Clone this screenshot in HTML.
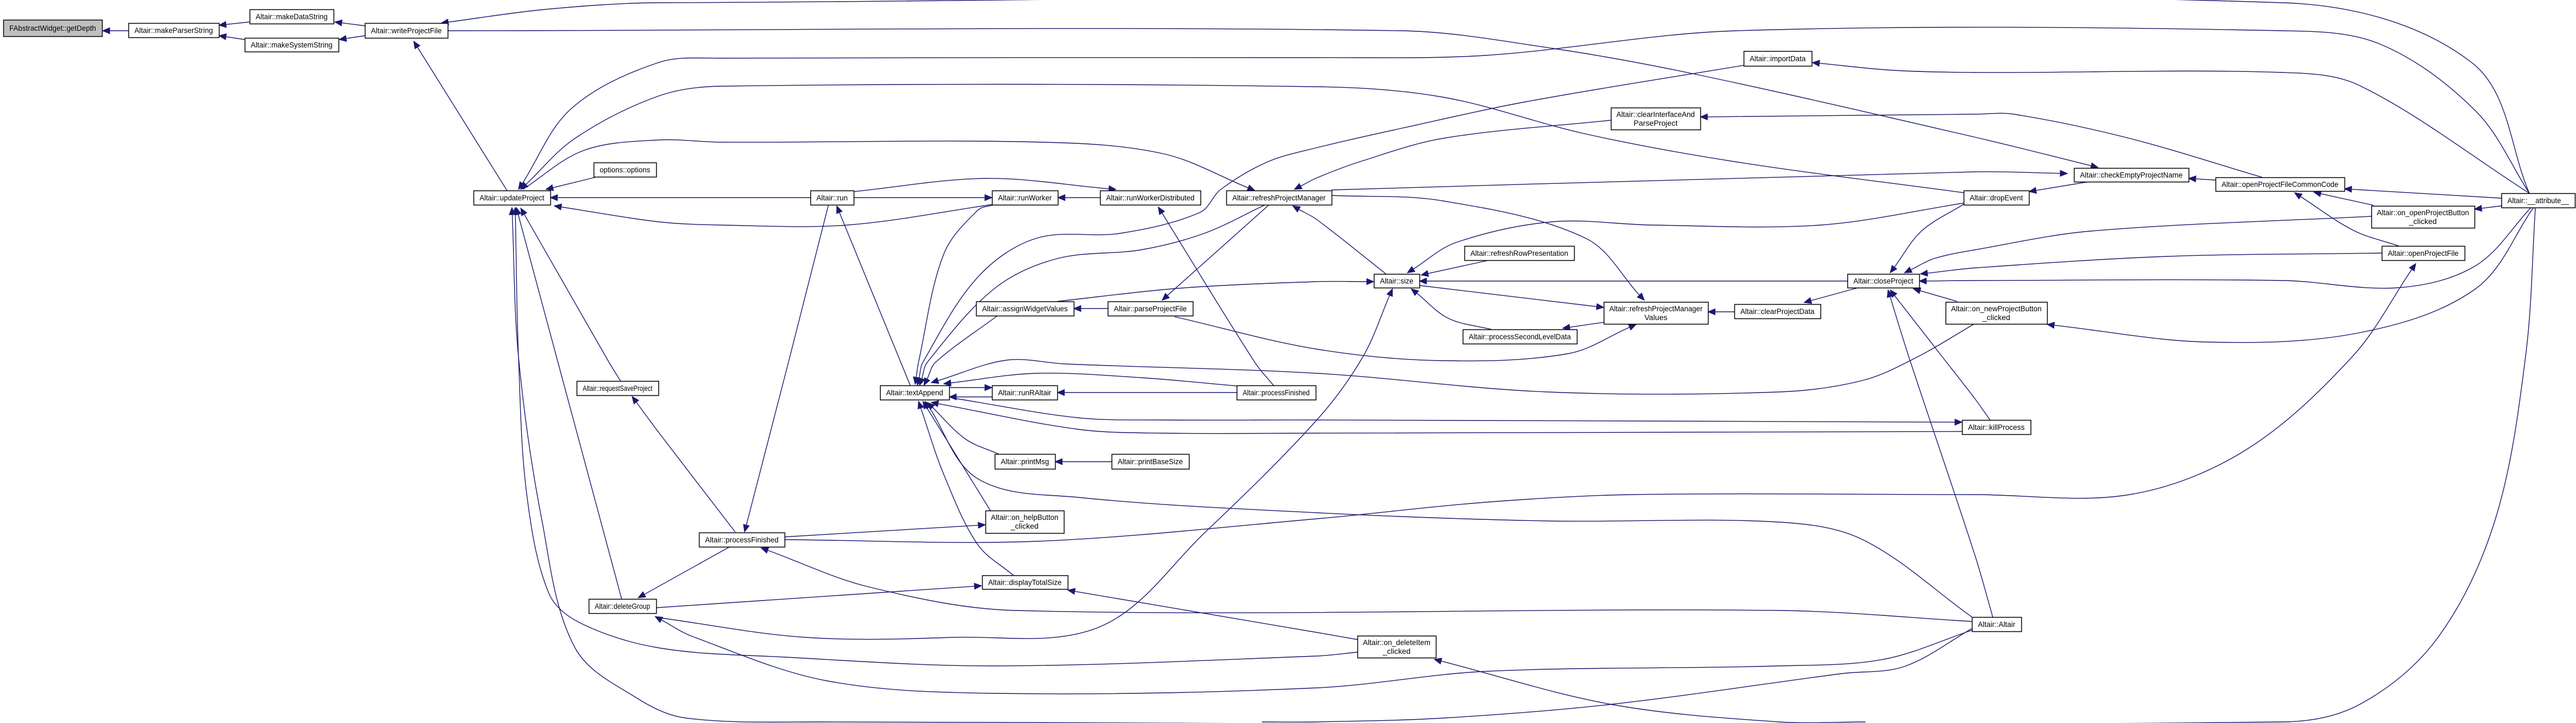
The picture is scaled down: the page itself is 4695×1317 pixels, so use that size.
<!DOCTYPE html>
<html><head><meta charset="utf-8"><style>
html,body{margin:0;padding:0;background:#fff;}
svg{display:block;}
text{font-family:"Liberation Sans",sans-serif;font-size:14px;fill:#000;}
</style></head><body>
<svg id="s" width="4695" height="1317" viewBox="0 0 4695 1317" xmlns="http://www.w3.org/2000/svg">
<g id="edges" fill="none" stroke="#191970" stroke-width="1.4"></g>
<g id="arrows" fill="#191970" stroke="#191970" stroke-width="1"></g>
<g id="nodes"></g>
</svg>
<script>
var N=[
["FAbstractWidget::getDepth",6,186,36,66,1],
["Altair::makeParserString",234,399,42,68],
["Altair::makeDataString",455,608,17,43],
["Altair::makeSystemString",446,617,69,94],
["Altair::writeProjectFile",665,816,42,69],
["Altair::updateProject",863,1003,347,373],
["options::options",1082,1196,296,322],
["Altair::requestSaveProject",1051,1200,694,720],
["Altair::deleteGroup",1073,1196,1091,1117],
["Altair::run",1477,1556,347,373],
["Altair::runWorker",1808,1928,347,373],
["Altair::runWorkerDistributed",2005,2188,347,373],
["Altair::refreshProjectManager",2235,2427,347,373],
["Altair::assignWidgetValues",1779,1957,549,575],
["Altair::parseProjectFile",2019,2174,549,575],
["Altair::textAppend",1604,1730,702,728],
["Altair::runRAltair",1808,1927,702,728],
["Altair::processFinished",2254,2398,702,728],
["Altair::printMsg",1813,1923,827,854],
["Altair::printBaseSize",2026,2167,827,854],
["Altair::on_helpButton|_clicked",1796,1939,930,971],
["Altair::processFinished",1274,1430,970,996],
["Altair::displayTotalSize",1790,1946,1048,1073],
["Altair::importData",3178,3302,93,120],
["Altair::clearInterfaceAnd|ParseProject",2936,3099,196,236],
["Altair::refreshRowPresentation",2669,2869,448,474],
["Altair::size",2504,2587,499,524],
["Altair::closeProject",3367,3498,499,524],
["Altair::refreshProjectManager|Values",2923,3113,550,590],
["Altair::clearProjectData",3161,3318,554,580],
["Altair::processSecondLevelData",2666,2874,600,626],
["Altair::dropEvent",3579,3698,347,373],
["Altair::checkEmptyProjectName",3780,3989,306,331],
["Altair::openProjectFileCommonCode",4038,4273,323,348],
["Altair::__attribute__",4559,4693,352,378],
["Altair::on_openProjectButton|_clicked",4322,4510,375,415],
["Altair::openProjectFile",4341,4492,448,474],
["Altair::on_newProjectButton|_clicked",3546,3731,550,590],
["Altair::killProcess",3576,3701,765,791],
["Altair::Altair",3594,3684,1124,1150],
["Altair::on_deleteItem|_clicked",2474,2617,1158,1198]
];
var E=[
[[187,56],[234,56]],
[[399,46],[455,40]],
[[399,65],[446,72]],
[[610,40],[665,47]],
[[618,72],[665,65]],
[[754,75],[924,347]],
[[804,42],[995,17],[1200,5],[4161,5],[4505,114],[4610,352]],
[[3824,305],[3600,250],[3089,135],[2829,88],[2553,56],[816,56]],
[[945,345],[1041,198],[1200,114],[1315,106],[2400,105],[2706,101],[3165,56],[4161,56],[4337,80],[4512,202],[4610,352]],
[[949,345],[1048,252],[1200,175],[1315,157],[2400,158],[2630,177],[2890,244],[3165,295],[3579,351]],
[[2287,347],[2120,280],[1900,259],[1315,259],[1200,255],[1064,274],[953,345]],
[[995,345],[1085,323]],
[[1003,360],[1477,360]],
[[1808,360],[1556,360]],
[[1928,360],[2005,360]],
[[1010,375],[1200,404],[1315,410],[1544,410],[1812,372]],
[[2034,345],[1797,325],[1556,349]],
[[2111,377],[2287,660],[2321,702]],
[[1357,969],[1437,660],[1510,373]],
[[1525,375],[1659,702]],
[[1668,700],[1674,660],[1720,463],[1782,383],[1812,373]],
[[1672,702],[1682,660],[1782,505],[1889,434],[2042,425],[2187,387],[2225,345],[2310,295],[2400,269],[2553,234],[2783,185],[3178,119]],
[[1676,702],[1690,660],[1812,526],[1927,471],[2080,455],[2195,425],[2306,373]],
[[2118,547],[2313,373]],
[[2356,375],[2400,400],[2526,499]],
[[2359,345],[2400,324],[2477,295],[2630,252],[2936,219]],
[[3768,316],[3600,313],[2427,346]],
[[2997,547],[2890,434],[2630,366],[2427,356]],
[[2504,513],[2400,513],[2150,525],[1927,549]],
[[1957,562],[2019,562]],
[[1684,702],[1705,660],[1818,575]],
[[2982,591],[2859,644],[2630,657],[2400,636],[2141,577]],
[[2923,560],[2587,520]],
[[2572,526],[2640,580],[2718,600]],
[[2848,598],[2923,587]],
[[2590,501],[2714,474]],
[[2587,512],[3367,512]],
[[2565,497],[2653,442],[2829,404],[3012,410],[3318,410],[3579,370]],
[[2538,526],[2484,650],[2400,765],[2195,971],[2004,1142],[1736,1161],[1468,1161],[1200,1125]],
[[1808,706],[1730,706]],
[[1730,723],[1808,723]],
[[1927,715],[2254,715]],
[[1697,697],[1835,656],[1942,663],[2400,680],[2821,714],[3242,714],[3395,693],[3495,650],[3600,589]],
[[1720,699],[1889,680],[2080,688],[2254,703]],
[[3576,769],[2400,765],[2118,765],[1965,761],[1736,725]],
[[1697,733],[1965,782],[2118,789],[2400,789],[3576,786]],
[[1923,841],[2026,841]],
[[1690,733],[1760,800],[1820,827]],
[[1686,731],[1782,872],[1965,906],[2400,934],[2821,949],[3242,951],[3395,983],[3594,1124]],
[[1682,731],[1805,930]],
[[1674,731],[1720,864],[1782,992],[1847,1048]],
[[1796,956],[1430,978]],
[[4403,480],[4287,650],[4091,821],[3881,901],[3600,901],[2974,901],[2706,915],[2400,945],[1889,986],[1430,983]],
[[1387,998],[1583,1069],[1850,1112],[3242,1112],[3594,1132]],
[[1163,1089],[1330,996]],
[[1789,1067],[1196,1107]],
[[1946,1075],[2400,1152],[2474,1165]],
[[1194,1123],[1261,1159],[1506,1240],[1812,1263],[2400,1253],[2706,1223],[3242,1213],[3433,1201],[3594,1148]],
[[939,378],[945,650],[960,900],[1000,1080],[1056,1134],[1200,1180],[1430,1197],[1812,1213],[2400,1195],[2474,1188]],
[[933,378],[945,650],[987,944],[1048,1180],[1163,1273],[1250,1308],[1500,1315],[4161,1315],[4301,1283],[4442,1163],[4547,949],[4603,650],[4621,378]],
[[2614,1201],[2936,1283],[3242,1315],[3400,1315]],
[[2300,1315],[2400,1315],[2630,1308],[2936,1283],[3357,1227],[3471,1214],[3594,1145],"noarrow"],
[[941,378],[1133,1091]],
[[949,379],[1110,660],[1131,694]],
[[1152,722],[1200,787],[1340,969]],
[[3303,114],[3450,128],[3600,132],[4161,132],[4301,156],[4610,352]],
[[3099,213],[3600,208],[3670,208],[3881,252],[4123,323]],
[[3989,325],[4038,328]],
[[3698,349],[3807,331]],
[[4273,344],[4559,361]],
[[4217,350],[4326,374]],
[[4182,351],[4290,420],[4372,448]],
[[4510,381],[4559,375]],
[[3471,497],[3525,471],[3600,455],[3810,421],[4322,394]],
[[3500,499],[3600,488],[3951,467],[4341,461]],
[[3498,512],[3600,511],[4161,511],[4372,524],[4512,484],[4613,378]],
[[3731,591],[4021,623],[4301,606],[4512,526],[4617,379]],
[[3487,526],[3567,549]],
[[3288,551],[3387,524]],
[[3113,568],[3161,568]],
[[3445,497],[3502,421],[3579,372]],
[[3445,528],[3540,650],[3600,727],[3627,765]],
[[3441,528],[3479,650],[3600,1013],[3632,1124]]
];
var NS="http://www.w3.org/2000/svg";
function el(t,a,p){var e=document.createElementNS(NS,t);for(var k in a)e.setAttribute(k,a[k]);p.appendChild(e);return e;}
function unit(a,b){var dx=b[0]-a[0],dy=b[1]-a[1],L=Math.sqrt(dx*dx+dy*dy)||1;return [dx/L,dy/L];}
function dist(a,b){var dx=b[0]-a[0],dy=b[1]-a[1];return Math.sqrt(dx*dx+dy*dy);}
var ge=document.getElementById("edges"),ga=document.getElementById("arrows"),gn=document.getElementById("nodes");
E.forEach(function(p){
  var noarrow=false;
  if(typeof p[p.length-1]==="string"){noarrow=true;p=p.slice(0,-1);}
  var tip=p[0],nx=p[1];
  var u=unit(tip,nx),dx=u[0],dy=u[1];
  var al=noarrow?0:13,aw=5.5;
  var bx=tip[0]+dx*al,by=tip[1]+dy*al;
  var pts=[[bx,by]].concat(p.slice(1));
  var d="M"+pts[0][0].toFixed(1)+","+pts[0][1].toFixed(1);
  if(pts.length==2){d+=" L"+pts[1][0]+","+pts[1][1];}
  else{
    for(var i=0;i<pts.length-1;i++){
      var p0=pts[i-1]||pts[i],p1=pts[i],p2=pts[i+1],p3=pts[i+2]||p2;
      var s=dist(p1,p2)/3;
      var t1=(i==0)?unit(p1,p2):unit(p0,p2);
      var t2=(i==pts.length-2)?unit(p1,p2):unit(p1,p3);
      var c1=[p1[0]+t1[0]*s,p1[1]+t1[1]*s];
      var c2=[p2[0]-t2[0]*s,p2[1]-t2[1]*s];
      d+=" C"+c1[0].toFixed(1)+","+c1[1].toFixed(1)+" "+c2[0].toFixed(1)+","+c2[1].toFixed(1)+" "+p2[0]+","+p2[1];
    }
  }
  el("path",{d:d},ge);
  if(!noarrow)el("polygon",{points:tip[0]+","+tip[1]+" "+(bx-dy*aw)+","+(by+dx*aw)+" "+(bx+dy*aw)+","+(by-dx*aw)},ga);
});
N.forEach(function(n){
  var x1=n[1],x2=n[2],y1=n[3],y2=n[4],w=x2-x1,h=y2-y1;
  el("rect",{x:x1+0.5,y:y1+0.5,width:w,height:h,fill:n[5]?"#bfbfbf":"#fff",stroke:"#000","stroke-width":1.5},gn);
  var lines=n[0].split("|"),cx=(x1+x2)/2;
  if(lines.length==1){
    var t=el("text",{x:x1+11,y:(y1+y2)/2+5,textLength:Math.max(10,w-22),lengthAdjust:"spacingAndGlyphs"},gn);t.textContent=lines[0];
  }else{
    var t1=el("text",{x:x1+10,y:y1+17,textLength:w-20,lengthAdjust:"spacingAndGlyphs"},gn);t1.textContent=lines[0];
    var t2=el("text",{x:cx,y:y1+33,"text-anchor":"middle"},gn);t2.textContent=lines[1];
  }
});
</script>
</body></html>
